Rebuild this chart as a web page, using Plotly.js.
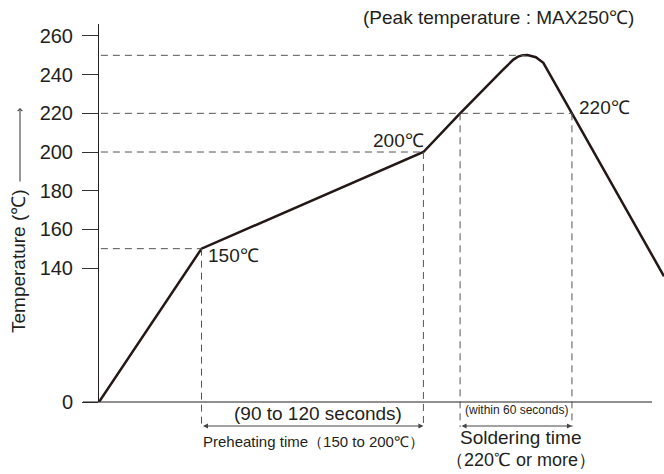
<!DOCTYPE html>
<html>
<head>
<meta charset="utf-8">
<script src="https://cdn.plot.ly/plotly-3.0.1.min.js"></script>
<style>html,body{margin:0;padding:0;background:#fff;}#chart{width:664px;height:474px;}</style>
</head>
<body>
<div id="chart"></div>
<script>
// ---- data (time in s, temperature in °C) ----
const profileTime = [0, 54.8, 173.4, 193, 216, 219, 221.5, 224, 226.5, 229, 231.5, 233.5, 235.5, 237.5, 252.8, 302];
const profileTemp = [0, 150, 200, 220, 242.6, 245.6, 247.8, 249.3, 250.1, 250.2, 249.7, 249.0, 247.6, 246.1, 220, 135.7];

const tickTemps = [0, 140, 160, 180, 200, 220, 240, 260];
const tickLabels = ["0", "140", "160", "180", "200", "220", "240", "260"];

// guide levels: temperature and time where the profile meets it
const guideTemps = [150, 200, 220, 250];
const guideEndTimes = [54.8, 173.4, 252.8, 228];
const verticalGuideTimes = [54.8, 173.4, 193, 252.8];
const verticalGuideTemps = [150, 200, 220, 220];

const preheatStart = 54.8, preheatEnd = 173.4;
const solderStart = 193, solderEnd = 252.8;

// ---- broken axis: "0" sits just below 140 ----
const ZERO_POS = 70.7;
const Y_MAX = 266.2;
const X_MAX = 302;
function yAxisPos(t) { return t <= 0 ? ZERO_POS : t; }
function yPaper(t) { return (yAxisPos(t) - ZERO_POS) / (Y_MAX - ZERO_POS); }

const ink = '#231f20';
const guideColor = '#555555';
const FONT = 'Liberation Sans, Arial, Helvetica, sans-serif';

const shapes = [];
// x-axis baseline
shapes.push({type:'line', xref:'paper', yref:'paper', x0:-16/565, x1:553/565, y0:0, y1:0,
  line:{color:ink, width:1}});
// horizontal dashed guides
guideTemps.forEach((t, i) => {
  shapes.push({type:'line', xref:'x', yref:'y', x0:1, x1:guideEndTimes[i], y0:t, y1:t,
    line:{color:guideColor, width:1, dash:'7px,5px'}});
});
// vertical dashed guides (extend below the axis to the arrows)
verticalGuideTimes.forEach((x, i) => {
  shapes.push({type:'line', xref:'x', yref:'paper', x0:x, x1:x, y0:yPaper(verticalGuideTemps[i]), y1:-0.066,
    line:{color:guideColor, width:1, dash:'7px,5px'}});
});

const annotations = [
  {text:'150℃', x:57.2, y:146.4, xref:'x', yref:'y', xanchor:'left', yanchor:'middle', showarrow:false,
   font:{family:FONT, size:19, color:ink}},
  {text:'200℃', x:174.8, y:206.2, xref:'x', yref:'y', xanchor:'right', yanchor:'middle', showarrow:false,
   font:{family:FONT, size:19, color:ink}},
  {text:'220℃', x:255.5, y:222.8, xref:'x', yref:'y', xanchor:'left', yanchor:'middle', showarrow:false,
   font:{family:FONT, size:19, color:ink}},
  {text:'(Peak temperature : MAX250℃)', x:0.9504, y:1.0159, xref:'paper', yref:'paper', xanchor:'right', yanchor:'middle', showarrow:false,
   font:{family:FONT, size:19, color:ink}},
  {text:'(90 to 120 seconds)', x:117.3, y:-0.0317, xref:'x', yref:'paper', xanchor:'center', yanchor:'middle', showarrow:false,
   font:{family:FONT, size:19, color:ink}},
  {text:'Preheating time（150 to 200℃）', x:114.9, y:-0.1032, xref:'x', yref:'paper', xanchor:'center', yanchor:'middle', showarrow:false,
   font:{family:FONT, size:15, color:ink}},
  {text:'(within 60 seconds)', x:222.9, y:-0.0212, xref:'x', yref:'paper', xanchor:'center', yanchor:'middle', showarrow:false,
   font:{family:FONT, size:12, color:ink}},
  {text:'Soldering time', x:225.3, y:-0.0952, xref:'x', yref:'paper', xanchor:'center', yanchor:'middle', showarrow:false,
   font:{family:FONT, size:19, color:ink}},
  {text:'（220℃ or more）', x:225.3, y:-0.1534, xref:'x', yref:'paper', xanchor:'center', yanchor:'middle', showarrow:false,
   font:{family:FONT, size:18, color:ink}},
  {text:'Temperature (℃)', x:-0.1434, y:0.373, xref:'paper', yref:'paper', xanchor:'center', yanchor:'middle', textangle:-90, showarrow:false,
   font:{family:FONT, size:19, color:ink}},
  // arrow beside the axis title
  {text:'', x:-0.1398, y:0.7778, xref:'paper', yref:'paper', ax:0, ay:75, axref:'pixel', ayref:'pixel',
   showarrow:true, arrowhead:4, arrowsize:0.9, arrowwidth:1, arrowcolor:'#333', standoff:0},
  // preheating time span
  {text:'', x:preheatEnd, y:-0.0635, xref:'x', yref:'paper', ax:preheatStart, ay:0, axref:'x', ayref:'pixel',
   showarrow:true, arrowhead:2, arrowside:'end+start', arrowsize:1, arrowwidth:1, arrowcolor:'#444', standoff:0, startstandoff:0},
  // soldering time span
  {text:'', x:solderEnd, y:-0.0635, xref:'x', yref:'paper', ax:solderStart, ay:0, axref:'x', ayref:'pixel',
   showarrow:true, arrowhead:2, arrowside:'end+start', arrowsize:1, arrowwidth:1, arrowcolor:'#444', standoff:0, startstandoff:0}
];

const trace = {
  x: profileTime,
  y: profileTemp.map(yAxisPos),
  type: 'scatter', mode: 'lines',
  line: {color:'#231815', width:2.5},
  hoverinfo: 'skip', showlegend: false
};

const layout = {
  width: 664, height: 474,
  margin: {l:99, r:0, t:24, b:72, pad:0},
  paper_bgcolor: '#fff', plot_bgcolor: '#fff',
  showlegend: false,
  xaxis: {range:[0, X_MAX], showline:false, showgrid:false, zeroline:false, showticklabels:false, ticks:'', fixedrange:true},
  yaxis: {range:[ZERO_POS, Y_MAX], showline:true, linecolor:ink, linewidth:1, showgrid:false, zeroline:false,
    tickmode:'array', tickvals: tickTemps.map(yAxisPos), ticktext: tickLabels,
    ticks:'outside', ticklen:16, tickwidth:1, tickcolor:'#333', ticklabelstandoff:5,
    tickfont:{family:FONT, size:20, color:ink}, fixedrange:true},
  shapes: shapes,
  annotations: annotations
};

Plotly.newPlot('chart', [trace], layout, {displayModeBar:false, staticPlot:true});
</script>
</body>
</html>
